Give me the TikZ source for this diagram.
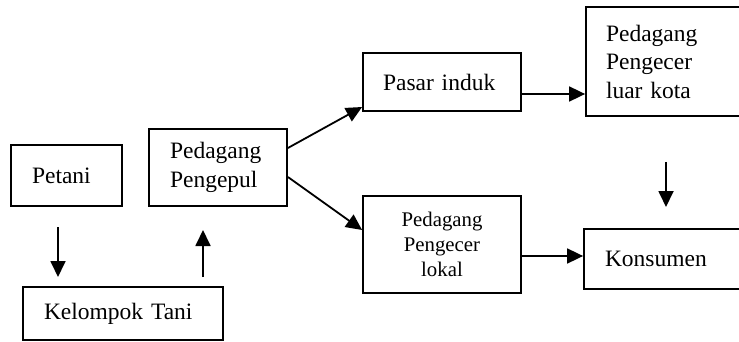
\documentclass[tikz,border=0pt]{standalone}
\usepackage{fontspec}
\setmainfont{Liberation Serif}
\usetikzlibrary{arrows.meta}
\tikzset{
  box/.style={draw, line width=1.8pt, inner ysep=0pt, align=left,
    font=\fontsize{23.5}{28.5}\selectfont},
  arr/.style={line width=1.8pt, -{Triangle[length=16pt,width=15pt]}},
}
\begin{document}
\begin{tikzpicture}[x=1pt,y=-1pt]
\useasboundingbox (0,0) rectangle (739,342);
\clip (0,0) rectangle (739,342);
\node[box, minimum width=111pt, minimum height=61pt, inner xsep=21pt, text width=69pt] (petani) at (66.5,175.5) {Petani};
\node[box, minimum width=138pt, minimum height=77pt, inner xsep=21pt, text width=96pt] (pengepul) at (218,167.5) {Pedagang\\Pengepul};
\node[box, minimum width=200pt, minimum height=53pt, inner xsep=21pt, text width=158pt] (kelompok) at (123,313.5) {Kelompok Tani};
\node[box, minimum width=158pt, minimum height=58pt, inner xsep=20pt, text width=118pt] (pasar) at (442,82) {Pasar induk};
\node[box, minimum width=174pt, minimum height=109pt, inner xsep=20pt, text width=134pt] (luar) at (673,61.5) {Pedagang\\Pengecer\\luar kota};
\node[box, minimum width=158pt, minimum height=97pt, inner xsep=10pt, text width=138pt, align=center, font=\fontsize{20.8}{25}\selectfont] (lokal) at (442,244.5) {Pedagang\\Pengecer\\lokal};
\node[box, minimum width=176pt, minimum height=60pt, inner xsep=21pt, text width=134pt] (konsumen) at (672,259) {Konsumen};
% free-ended arrows
\coordinate (a1s) at (58,227);
\coordinate (a1e) at (58,277);
\coordinate (a2s) at (203,277);
\coordinate (a2e) at (203,230);
\coordinate (a3s) at (666,162);
\coordinate (a3e) at (666,207);
\draw[arr] (a1s) -- (a1e);
\draw[arr] (a2s) -- (a2e);
\draw[arr] (a3s) -- (a3e);
% node-to-node arrows
\draw[arr] ([yshift=19.5pt]pengepul.east) -- ([yshift=-25pt]pasar.west);
\draw[arr] ([yshift=-9.5pt]pengepul.east) -- ([yshift=14.5pt]lokal.west);
\draw[arr] ([yshift=-12pt]pasar.east) -- ([yshift=-32.5pt]luar.west);
\draw[arr] ([yshift=-11.5pt]lokal.east) -- ([yshift=3pt]konsumen.west);
\end{tikzpicture}
\end{document}
